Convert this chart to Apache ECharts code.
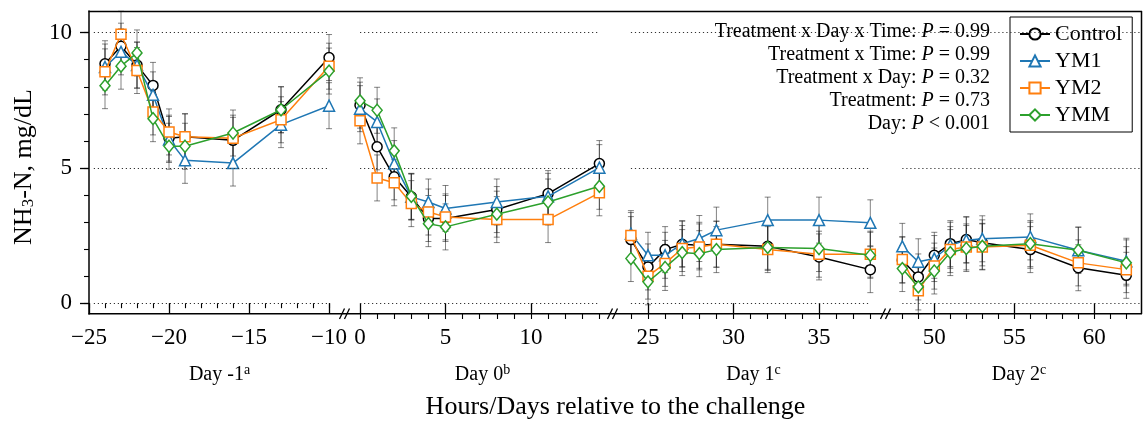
<!DOCTYPE html>
<html><head><meta charset="utf-8">
<script src="https://cdn.jsdelivr.net/npm/echarts@6/dist/echarts.min.js"></script>
<style>html,body{margin:0;padding:0;background:#fff}#c{width:1147px;height:423px}</style>
</head><body><div id="c"></div>
<script>
// ---------------- data ----------------
const groups = ['Control', 'YM1', 'YM2', 'YMM'];
const dayNames = ['Day -1', 'Day 0', 'Day 1', 'Day 2'];
const daySup = ['a', 'b', 'c', 'c'];
const hours = [
  [-24, -23, -22, -21, -20, -19, -16, -13, -10],
  [0, 1, 2, 3, 4, 5, 8, 11, 14],
  [24, 25, 26, 27, 28, 29, 32, 35, 38],
  [48, 49, 50, 51, 52, 53, 56, 59, 62]
];
const control = [
  [8.85, 9.50, 8.80, 8.05, 6.10, 6.15, 6.02, 7.15, 9.08],
  [7.32, 5.78, 4.67, 3.93, 3.13, 3.13, 3.46, 4.05, 5.16],
  [2.35, 1.34, 1.98, 2.18, 2.14, 2.18, 2.10, 1.71, 1.24],
  [1.59, 0.97, 1.77, 2.20, 2.35, 2.23, 1.98, 1.31, 1.03]
];
const ym1 = [
  [8.73, 9.29, 8.80, 7.70, 6.05, 5.28, 5.18, 6.60, 7.30],
  [7.19, 6.70, 5.16, 3.93, 3.74, 3.50, 3.74, 3.95, 5.01],
  [2.57, 1.77, 1.77, 2.20, 2.39, 2.70, 3.07, 3.07, 2.97],
  [2.10, 1.53, 1.65, 2.14, 2.33, 2.38, 2.45, 1.96, 1.55]
];
const ym2 = [
  [8.55, 9.94, 8.60, 7.07, 6.33, 6.15, 6.10, 6.78, 8.76],
  [6.74, 4.63, 4.45, 3.68, 3.37, 3.19, 3.09, 3.09, 4.08],
  [2.50, 1.00, 1.47, 2.02, 2.08, 2.18, 1.98, 1.81, 1.81],
  [1.61, 0.46, 1.37, 1.98, 2.08, 2.08, 2.14, 1.49, 1.24]
];
const ymm = [
  [8.04, 8.76, 9.25, 6.82, 5.80, 5.80, 6.29, 7.15, 8.58],
  [7.48, 7.13, 5.63, 3.95, 2.94, 2.82, 3.29, 3.74, 4.32],
  [1.65, 0.79, 1.32, 1.87, 1.83, 1.98, 2.06, 2.02, 1.77],
  [1.28, 0.60, 1.19, 1.87, 2.02, 2.10, 2.20, 1.96, 1.49]
];
const sem = [0.85, 0.85, 0.85, 0.85];   // pooled SEM per group
const xTickLabels = [[-25, -20, -15, -10], [0, 5, 10], [25, 30, 35], [50, 55, 60]];
const yTickLabels = [0, 5, 10];
const statLabels = ['Treatment x Day x Time:', 'Treatment x Time:', 'Treatment x Day:', 'Treatment:', 'Day:'];
const statOps = ['=', '=', '=', '=', '<'];
const statValues = ['0.99', '0.99', '0.32', '0.73', '0.001'];

// ---------------- layout / style ----------------
const FONT = 'Liberation Serif';
const colors = ['#000000', '#1f77b4', '#ff7f0e', '#2ca02c'];
const symbols = ['circle', 'triangle', 'rect', 'diamond'];
const symbolSizes = [10, 11, 10, [10, 12]];
const panels = [
  { left: 89, width: 253, min: -25, max: -9.19 },
  { left: 346, width: 265, min: -0.82, max: 14.68 },
  { left: 615, width: 269, min: 23.07, max: 38.80 },
  { left: 888, width: 254, min: 47.106, max: 62.98 }
];
const refSpan = [[-24.7, -10], [0, 14], [24, 38], [48, 62.98]];
const TOP = 11, BOTTOM = 314, YMIN = -0.4, YMAX = 10.8;
const series = [control, ym1, ym2, ymm];

const grid = panels.map(p => ({ left: p.left, width: p.width, top: TOP, height: BOTTOM - TOP, containLabel: false }));
const labelStyle = { fontFamily: FONT, fontSize: 23, color: '#000' };
const fmt = v => (v < 0 ? '\u2212' + Math.abs(v) : String(v));

const xAxis = [];
panels.forEach((p, i) => {
  xAxis.push({
    gridIndex: i, type: 'value', min: p.min, max: p.max, position: 'bottom',
    axisLine: { show: false },
    axisTick: { show: true, length: 10, customValues: xTickLabels[i], lineStyle: { color: '#000', width: 1.3 } },
    axisLabel: Object.assign({ show: true, customValues: xTickLabels[i], margin: 12, formatter: fmt }, labelStyle),
    splitLine: { show: false }
  });
});
panels.forEach((p, i) => {
  const ints = [];
  for (let v = Math.ceil(p.min); v <= Math.floor(p.max); v++) ints.push(v);
  xAxis.push({
    gridIndex: i, type: 'value', min: p.min, max: p.max, position: 'bottom',
    axisLine: { show: false },
    axisTick: { show: true, length: 5, customValues: ints, lineStyle: { color: '#000', width: 1.1 } },
    axisLabel: { show: false }, splitLine: { show: false }
  });
});

const yAxis = [];
panels.forEach((p, i) => {
  if (i === 0) {
    yAxis.push({
      gridIndex: 0, type: 'value', min: YMIN, max: YMAX, position: 'left',
      axisLine: { show: true, lineStyle: { color: '#000', width: 1.5 } },
      axisTick: { show: true, length: 9, customValues: yTickLabels, lineStyle: { color: '#000', width: 1.3 } },
      axisLabel: Object.assign({ show: true, customValues: yTickLabels, margin: 17 }, labelStyle),
      splitLine: { show: false }
    });
  } else {
    yAxis.push({ gridIndex: i, type: 'value', min: YMIN, max: YMAX, show: false, splitLine: { show: false } });
  }
});
const yMinor = [];
for (let v = 0; v <= 10; v++) yMinor.push(v);
yAxis.push({
  gridIndex: 0, type: 'value', min: YMIN, max: YMAX, position: 'left',
  axisLine: { show: false },
  axisTick: { show: true, length: 5, customValues: yMinor, lineStyle: { color: '#000', width: 1.1 } },
  axisLabel: { show: false }, splitLine: { show: false }
});

const seriesList = [];
panels.forEach((p, pi) => {
  groups.forEach((g, gi) => {
    const vals = series[gi][pi];
    // error bars
    seriesList.push({
      type: 'custom', xAxisIndex: pi, yAxisIndex: pi, z: 1, silent: true,
      data: hours[pi].map((x, k) => [x, vals[k] - sem[gi], vals[k] + sem[gi]]),
      encode: { x: 0, y: [1, 2] },
      renderItem: (params, api) => {
        const x = api.value(0);
        const a = api.coord([x, api.value(1)]);
        const b = api.coord([x, api.value(2)]);
        const st = { stroke: 'rgba(30,30,30,0.55)', lineWidth: 1 };
        const cw = 3;
        return {
          type: 'group', children: [
            { type: 'line', shape: { x1: a[0], y1: a[1], x2: b[0], y2: b[1] }, style: st },
            { type: 'line', shape: { x1: a[0] - cw, y1: a[1], x2: a[0] + cw, y2: a[1] }, style: st },
            { type: 'line', shape: { x1: b[0] - cw, y1: b[1], x2: b[0] + cw, y2: b[1] }, style: st }
          ]
        };
      }
    });
  });
  groups.forEach((g, gi) => {
    const vals = series[gi][pi];
    const s = {
      type: 'line', name: g, xAxisIndex: pi, yAxisIndex: pi, z: 2 + gi,
      data: hours[pi].map((x, k) => [x, vals[k]]),
      symbol: symbols[gi], symbolSize: symbolSizes[gi], showAllSymbol: true,
      lineStyle: { color: colors[gi], width: 1.5 },
      itemStyle: { color: '#fff', borderColor: colors[gi], borderWidth: 1.5 },
      emphasis: { disabled: true }
    };
    if (gi === 0) {
      s.markLine = {
        silent: true, symbol: ['none', 'none'], label: { show: false },
        lineStyle: { color: '#333', type: [1.2, 2.8], width: 1 },
        emphasis: { disabled: true },
        data: yTickLabels.map(y => [{ coord: [refSpan[pi][0], y] }, { coord: [refSpan[pi][1], y] }])
      };
    }
    seriesList.push(s);
  });
});

// ---------------- graphic (frame, breaks, labels) ----------------
const graphic = [];
const frame = { stroke: '#000', lineWidth: 1.5 };
graphic.push({ type: 'line', z: 50, shape: { x1: 88.5, y1: 11.5, x2: 1142, y2: 11.5 }, style: frame });
graphic.push({ type: 'line', z: 50, shape: { x1: 1141.5, y1: 11, x2: 1141.5, y2: 314 }, style: frame });
graphic.push({ type: 'line', z: 50, shape: { x1: 88.5, y1: 313.75, x2: 1142, y2: 313.75 }, style: frame });
[345, 613, 886].forEach(cx => {
  [-3, 2].forEach(dx => {
    graphic.push({ type: 'line', z: 51, shape: { x1: cx + dx - 2.5, y1: 319, x2: cx + dx + 2.5, y2: 308.5 }, style: { stroke: '#000', lineWidth: 1.3 } });
  });
});
panels.forEach((p, i) => {
  graphic.push({
    type: 'text', z: 50, x: p.left + p.width / 2 + 4, y: 374,
    style: {
      text: '{n|' + dayNames[i] + '}{s|' + daySup[i] + '}',
      align: 'center', verticalAlign: 'middle',
      rich: {
        n: { fontFamily: FONT, fontSize: 20, lineHeight: 22, verticalAlign: 'bottom', fill: '#000' },
        s: { fontFamily: FONT, fontSize: 14, lineHeight: 14, verticalAlign: 'top', fill: '#000' }
      }
    }
  });
});
graphic.push({
  type: 'text', z: 50, x: 615.5, y: 407,
  style: { text: 'Hours/Days relative to the challenge', fontFamily: FONT, fontSize: 26, fill: '#000', align: 'center', verticalAlign: 'middle' }
});
graphic.push({
  type: 'text', z: 50, x: 24, y: 167, rotation: Math.PI / 2,
  style: {
    text: '{n|NH}{s|3}{n|-N, mg/dL}', align: 'center', verticalAlign: 'middle',
    rich: {
      n: { fontFamily: FONT, fontSize: 26, lineHeight: 26, verticalAlign: 'top', fill: '#000' },
      s: { fontFamily: FONT, fontSize: 17, lineHeight: 17, verticalAlign: 'bottom', fill: '#000' }
    }
  }
});
statLabels.forEach((lab, i) => {
  graphic.push({
    type: 'text', z: 50, x: 990, y: 32 + i * 23,
    style: {
      text: '{n|' + lab + ' }{i|P}{n| ' + statOps[i] + ' ' + statValues[i] + '}',
      align: 'right', verticalAlign: 'middle',
      rich: {
        n: { fontFamily: FONT, fontSize: 20, fill: '#000' },
        i: { fontFamily: FONT, fontSize: 20, fontStyle: 'italic', fill: '#000' }
      }
    }
  });
});

const chart = echarts.init(document.getElementById('c'), null, { renderer: 'canvas' });
chart.setOption({
  animation: false,
  backgroundColor: '#fff',
  grid, xAxis, yAxis,
  legend: {
    data: groups, orient: 'vertical', left: 1010, top: 17,
    padding: [6, 10, 6, 9], itemWidth: 30, itemHeight: 14, itemGap: 5,
    borderColor: '#000', borderWidth: 1, borderRadius: 0, backgroundColor: '#fff',
    textStyle: { fontFamily: FONT, fontSize: 22, color: '#000', lineHeight: 22 },
    selectedMode: false
  },
  series: seriesList,
  graphic
});
</script></body></html>
